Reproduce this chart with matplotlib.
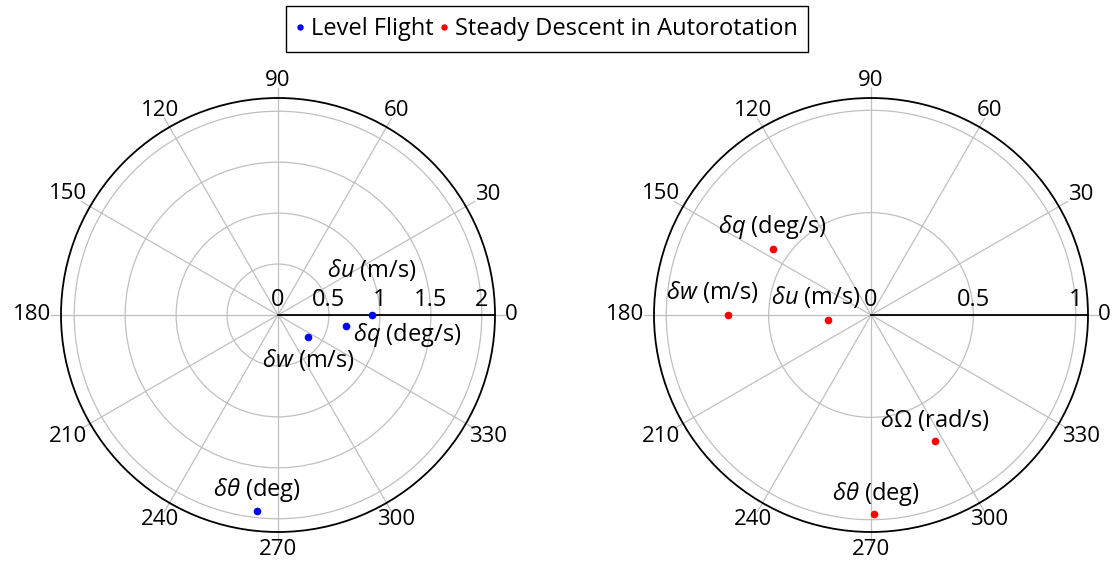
import numpy as np
import matplotlib
matplotlib.use("Agg")
import matplotlib.pyplot as plt

plt.rcParams["font.family"] = ["Open Sans", "DejaVu Sans"]
plt.rcParams["mathtext.fontset"] = "custom"
plt.rcParams["mathtext.rm"] = "Open Sans"
plt.rcParams["mathtext.it"] = "Open Sans:italic"

# level flight: magnitude and phase (deg)
level_names = [r"$\delta u$ (m/s)", r"$\delta q$ (deg/s)", r"$\delta w$ (m/s)", r"$\delta \theta$ (deg)"]
level_r = [0.92, 0.68, 0.37, 1.93]
level_theta = [0, 351, 324, 264]

# steady descent in autorotation
desc_names = [r"$\delta q$ (deg/s)", r"$\delta w$ (m/s)", r"$\delta u$ (m/s)", r"$\delta\Omega$ (rad/s)", r"$\delta \theta$ (deg)"]
desc_r = [0.58, 0.70, 0.21, 0.69, 0.97]
desc_theta = [146, 180, 187, 297, 271]

level_rticks = [0, 0.5, 1, 1.5, 2]
desc_rticks = [0, 0.5, 1]
theta_ticks = list(range(0, 360, 30))

# label offsets in pixels (x, y)
level_off = [(0, 45), (61, -9), (0, -23), (-1, 21)]
desc_off = [(0, 22), (-15, 23), (-12, 23), (0, 21), (1, 20)]

fig = plt.figure(figsize=(11.17, 5.62), dpi=100)
ax1 = fig.add_axes([61 / 1117, 30 / 562, 434 / 1117, 434 / 562], projection="polar")
ax2 = fig.add_axes([654 / 1117, 30 / 562, 434 / 1117, 434 / 562], projection="polar")

GRID = "#c0c0c0"
theta_labels = []


def setup(ax, rticks, rmax):
    ax.set_rlim(0, rmax)
    ax.set_thetagrids(theta_ticks, [""] * len(theta_ticks))
    ax.set_rgrids(rticks[1:], [""] * (len(rticks) - 1))
    ax.grid(color=GRID, linewidth=0.9)
    ax.tick_params(axis="x", length=0)
    ax.spines["polar"].set_linewidth(1.3)
    ax.plot([0, 0], [0, rmax], color="k", lw=1.3, zorder=2)
    # tick stubs outside the rim
    for a in theta_ticks:
        th = np.deg2rad(a)
        ax.plot([th, th], [rmax, rmax * (1 + 10 / 217)], color=GRID, lw=0.9, clip_on=False)
        t = ax.annotate(str(a), (th, rmax), xytext=(0, 0), textcoords="offset pixels",
                        ha="center", va="center", fontsize=16, annotation_clip=False)
        theta_labels.append((t, th))
    for r in rticks:
        ax.annotate(f"{r:g}", (0, r), xytext=(0, 3), textcoords="offset pixels",
                    ha="center", va="bottom", fontsize=17)


setup(ax1, level_rticks, 2.13)
setup(ax2, desc_rticks, 1.06)

ax1.plot(np.deg2rad(level_theta), level_r, "o", color="blue", ms=4.5, ls="none",
         label="Level Flight", zorder=3)
ax2.plot(np.deg2rad(desc_theta), desc_r, "o", color="red", ms=4.5, ls="none",
         label="Steady Descent in Autorotation", zorder=3)

for name, r, th, off in zip(level_names, level_r, level_theta, level_off):
    ax1.annotate(name, (np.deg2rad(th), r), xytext=off, textcoords="offset pixels",
                 ha="center", va="center", fontsize=17)
for name, r, th, off in zip(desc_names, desc_r, desc_theta, desc_off):
    ax2.annotate(name, (np.deg2rad(th), r), xytext=off, textcoords="offset pixels",
                 ha="center", va="center", fontsize=17)

h1, l1 = ax1.get_legend_handles_labels()
h2, l2 = ax2.get_legend_handles_labels()
fig.legend(h1 + h2, l1 + l2, loc="center", bbox_to_anchor=(547 / 1117, 1 - 29 / 562),
           ncol=2, fontsize=17, fancybox=False, edgecolor="black", framealpha=1,
           handlelength=0.3, handletextpad=0.3, columnspacing=0.3, markerscale=0.8,
           borderpad=0.45)

# anchor each angle label on its border, pgfplots style
fig.canvas.draw()
renderer = fig.canvas.get_renderer()
for t, th in theta_labels:
    bb = t.get_window_extent(renderer)
    w, h = bb.width, bb.height * 0.75
    c, s = np.cos(th), np.sin(th)
    tx = w / 2 / abs(c) if abs(c) > 1e-6 else np.inf
    ty = h / 2 / abs(s) if abs(s) > 1e-6 else np.inf
    d = 10 + min(tx, ty)
    t.xyann = (d * c, d * s)

fig.savefig("out.png", dpi=100)
